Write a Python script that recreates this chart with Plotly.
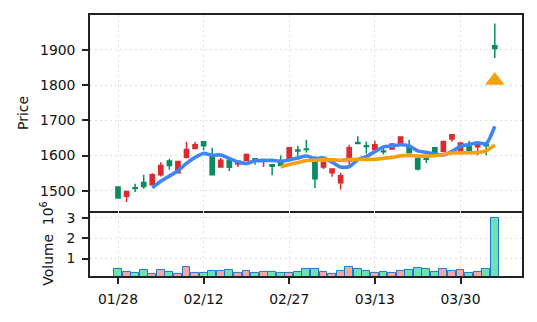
import pandas as pd
import plotly.graph_objects as go
from plotly.subplots import make_subplots

# ---- data ----
opens = [1511, 1485, 1509, 1524, 1517, 1546, 1585, 1551, 1595, 1620,
         1639, 1596, 1568, 1587, 1576, 1586, 1591, 1586, 1574, 1584,
         1591, 1616, 1619, 1582, 1568, 1551, 1523, 1585, 1637, 1628,
         1617, 1613, 1619, 1631, 1622, 1591, 1592, 1622, 1612, 1647,
         1606, 1626, 1625, 1632, 1912]
highs = [1511, 1498, 1520, 1546, 1550, 1581, 1591, 1585, 1639, 1639,
         1640, 1622, 1593, 1589, 1585, 1606, 1592, 1591, 1575, 1600,
         1624, 1628, 1645, 1598, 1581, 1563, 1551, 1631, 1655, 1640,
         1642, 1622, 1635, 1654, 1645, 1593, 1593, 1623, 1641, 1660,
         1637, 1642, 1634, 1640, 1975]
lows = [1480, 1468, 1497, 1506, 1515, 1541, 1560, 1549, 1592, 1619,
        1615, 1545, 1566, 1556, 1568, 1584, 1574, 1568, 1544, 1572,
        1585, 1598, 1609, 1508, 1562, 1540, 1504, 1574, 1634, 1606,
        1615, 1603, 1617, 1629, 1606, 1558, 1579, 1606, 1610, 1640,
        1604, 1613, 1601, 1601, 1877]
closes = [1480, 1498, 1507, 1512, 1546, 1572, 1572, 1583, 1617, 1631,
          1628, 1546, 1587, 1567, 1584, 1603, 1586, 1589, 1570, 1572,
          1622, 1613, 1617, 1534, 1581, 1562, 1543, 1622, 1634, 1626,
          1631, 1611, 1633, 1653, 1608, 1562, 1590, 1608, 1640, 1659,
          1636, 1615, 1633, 1628, 1904]
volumes_m = [0.50, 0.36, 0.31, 0.46, 0.26, 0.42, 0.36, 0.23, 0.58, 0.31,
             0.29, 0.41, 0.41, 0.46, 0.31, 0.41, 0.28, 0.34, 0.34, 0.29,
             0.29, 0.36, 0.50, 0.50, 0.36, 0.25, 0.41, 0.59, 0.50, 0.41,
             0.29, 0.36, 0.29, 0.41, 0.46, 0.55, 0.50, 0.34, 0.50, 0.41,
             0.46, 0.29, 0.36, 0.50, 3.02]
tick_labels = ["01/28", "02/12", "02/27", "03/13", "03/30"]
tick_index = [0, 10, 20, 30, 40]
signal_index = [44]
signal_price = [1813]
mav_windows = [5, 20]

x = list(range(len(closes)))
close_s = pd.Series(closes, dtype=float)

UP = "#dc2a2e"
DOWN = "#0b8c5e"
VOL_UP = "#f6a6a6"
VOL_DOWN = "#6fe2b5"
VOL_EDGE = "#1f78c8"
MA_COLORS = ["#3e86f5", "#f5a00f"]
FONT = "DejaVu Sans"
AX = "#222222"
GRID = "#dedede"

fig = make_subplots(rows=2, cols=1, shared_xaxes=True, vertical_spacing=0,
                    row_heights=[0.7507, 0.2493])

fig.add_trace(go.Candlestick(
    x=x, open=opens, high=highs, low=lows, close=closes,
    increasing=dict(line=dict(color=UP, width=1.5), fillcolor=UP),
    decreasing=dict(line=dict(color=DOWN, width=1.5), fillcolor=DOWN),
    whiskerwidth=0, showlegend=False, hoverinfo="skip"), row=1, col=1)

for w, c in zip(mav_windows, MA_COLORS):
    ma = close_s.rolling(w).mean()
    fig.add_trace(go.Scatter(x=x, y=ma, mode="lines",
                             line=dict(color=c, width=3.6, shape="spline", smoothing=0.6),
                             showlegend=False, hoverinfo="skip"), row=1, col=1)

fig.add_trace(go.Scatter(x=signal_index, y=signal_price, mode="markers",
                         marker=dict(symbol="triangle-up", size=17, color=MA_COLORS[1]),
                         showlegend=False, hoverinfo="skip"), row=1, col=1)

vol_colors = [VOL_UP if c >= o else VOL_DOWN for o, c in zip(opens, closes)]
fig.add_trace(go.Bar(x=x, y=volumes_m, width=0.92, marker=dict(color=vol_colors,
                     line=dict(color=VOL_EDGE, width=1)),
                     base=0, showlegend=False, hoverinfo="skip"), row=2, col=1)

common_axis = dict(showline=True, linecolor=AX, linewidth=1.6,
                   showgrid=True, gridcolor=GRID, griddash="2px,3px", gridwidth=1,
                   zeroline=False, tickfont=dict(family=FONT, size=13.9, color="#111"))

fig.update_xaxes(**common_axis, range=[-3.27, 47.18], tickvals=tick_index,
                 ticktext=tick_labels, rangeslider=dict(visible=False))
fig.update_xaxes(ticks="", showticklabels=False, mirror=True, row=1, col=1)
fig.update_xaxes(ticks="outside", ticklen=6, tickwidth=1.5, tickcolor=AX, mirror=False,
                 ticklabelstandoff=4, row=2, col=1)

fig.update_yaxes(**common_axis, mirror=True, ticks="outside", ticklen=6, tickwidth=1.5,
                 tickcolor=AX, ticklabelstandoff=4)
fig.update_yaxes(range=[1443, 1999], tickvals=[1500, 1600, 1700, 1800, 1900],
                 title=dict(text="Price", font=dict(family=FONT, size=13.9, color="#111"),
                            standoff=8), row=1, col=1)
fig.update_yaxes(range=[0.14, 3.34], tickvals=[1, 2, 3],
                 title=dict(text="Volume  10<sup>6</sup>",
                            font=dict(family=FONT, size=13.9, color="#111"),
                            standoff=10), row=2, col=1)

fig.update_layout(width=537, height=322, margin=dict(l=90, r=15, t=15, b=45.5),
                  paper_bgcolor="white", plot_bgcolor="white", bargap=0,
                  font=dict(family=FONT, size=13.9, color="#111"))

fig.write_html("out.html")
